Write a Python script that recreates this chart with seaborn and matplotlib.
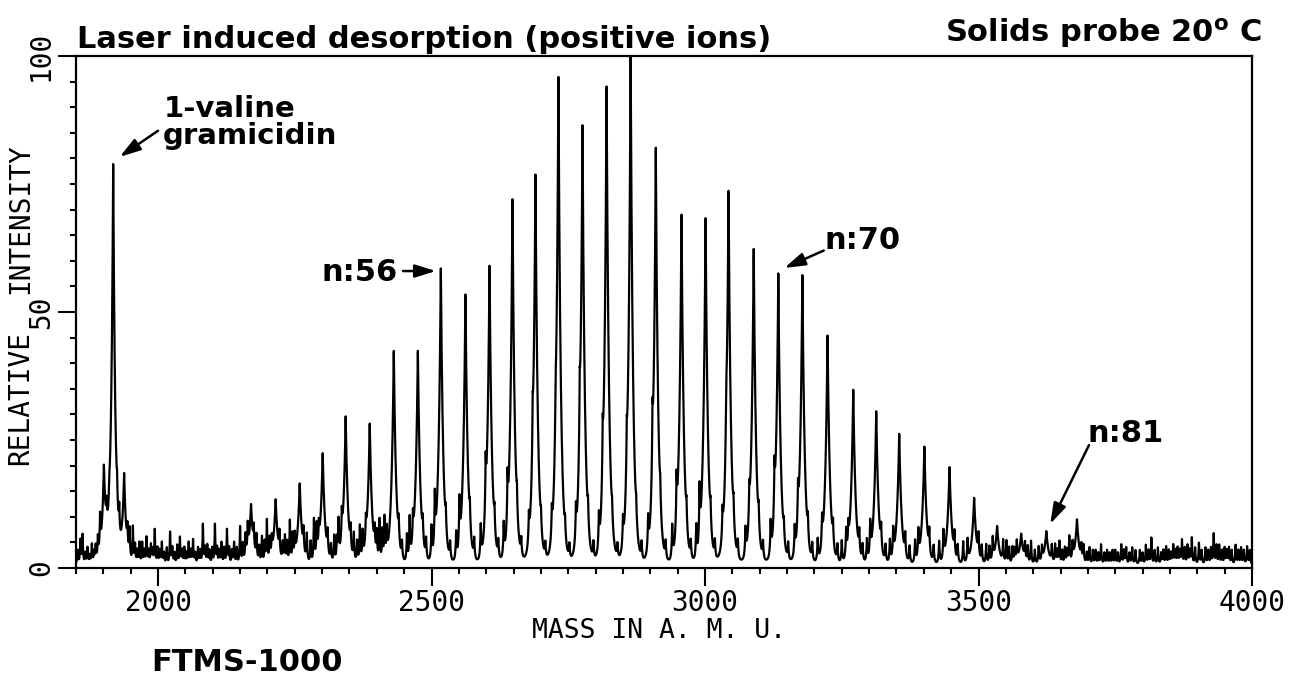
import numpy as np
import pandas as pd
import matplotlib
matplotlib.use("Agg")
import matplotlib.pyplot as plt
import seaborn as sns

# ---------------- data ----------------
# calibrant cluster (1-valine gramicidin)
gram_mass = [1901, 1918, 1938]
gram_height = [19.0, 78.5, 18.0]

# main oligomer series (n:56 at 2517, n:70 at 3134, n:81 at 3624)
series_mass = [2170, 2215, 2259, 2301, 2343, 2387, 2431, 2475, 2517, 2562,
               2606, 2648, 2690, 2732, 2776, 2820, 2864, 2910, 2957, 3001,
               3043, 3089, 3134, 3178, 3224, 3271, 3313, 3355, 3401, 3447,
               3492, 3534, 3578, 3624, 3680]
series_height = [12.4, 13.4, 16.5, 22.4, 29.6, 28.2, 42.4, 42.4, 58.5, 53.4,
                 59.0, 72.0, 76.7, 95.8, 86.3, 94.0, 100.0, 82.0, 69.0, 68.3,
                 73.4, 62.3, 57.5, 57.2, 45.4, 34.8, 30.6, 26.2, 23.7, 19.7,
                 13.7, 8.2, 6.7, 7.2, 9.5]

# small satellite / noise spikes
noise_mass = [1853, 1858, 1862, 1867, 1871, 1875, 1879, 1883, 1886, 1890, 1894,
              1906, 1911, 1925, 1929, 1944, 1948, 1954, 1958, 1962, 1966, 1971,
              1975, 1979, 1983, 1987, 1990, 1994, 1999, 2003, 2007, 2011, 2016,
              2022, 2026, 2030, 2035, 2040, 2044, 2048, 2052, 2056, 2060, 2064,
              2068, 2073, 2077, 2082, 2086, 2090, 2094, 2099, 2104, 2108, 2112,
              2116, 2121, 2126, 2130, 2135, 2139, 2144, 2150, 2155, 2160, 2164,
              2175, 2180, 2185, 2190, 2195, 2199, 2204, 2208, 2222, 2228, 2232,
              2236, 2241, 2246, 2250, 2266, 2272, 2279, 2285, 2290, 2294, 2310,
              2316, 2322, 2327, 2330, 2336, 2352, 2358, 2364, 2369, 2374, 2380,
              2396, 2400, 2405, 2410, 2414, 2418,
              2440, 2446, 2455, 2460, 2466, 2484, 2490, 2500, 2506, 2526, 2534,
              2545, 2551, 2570, 2578, 2590, 2599, 2615, 2622, 2632, 2639, 2656,
              2664, 2678, 2685, 2700, 2708, 2720, 2727, 2744, 2752, 2764, 2771,
              2786, 2796, 2806, 2813, 2830, 2840, 2850, 2857, 2874, 2884, 2896,
              2904, 2918, 2928, 2940, 2948, 2966, 2974, 2984, 2990, 3010, 3018,
              3032, 3039, 3052, 3060, 3074, 3081, 3098, 3106, 3120, 3127, 3144,
              3152, 3164, 3170, 3188, 3196, 3206, 3214, 3234, 3242, 3250, 3258,
              3262, 3282, 3288, 3296, 3302, 3322, 3330, 3338, 3344, 3366, 3374,
              3384, 3390, 3410, 3418, 3428, 3436, 3456, 3462, 3472, 3480, 3500,
              3506, 3514, 3520, 3526, 3545, 3551, 3556, 3562, 3566, 3570, 3585,
              3590, 3596, 3603, 3610, 3616, 3634, 3640, 3644, 3648, 3653, 3658,
              3662, 3666, 3672, 3688, 3692, 3698, 3703, 3709, 3714, 3719, 3724,
              3730, 3735, 3740, 3745, 3750, 3755, 3761, 3766, 3770, 3776, 3781,
              3787, 3795, 3800, 3806, 3811, 3816, 3822, 3828, 3834, 3838, 3843,
              3848, 3852, 3856, 3860, 3864, 3868, 3872, 3877, 3882, 3886, 3890,
              3896, 3903, 3908, 3915, 3920, 3925, 3930, 3935, 3940, 3945, 3950,
              3954, 3958, 3963, 3970, 3975, 3980, 3985, 3991, 3996]
noise_height = [3.5, 5.5, 6.5, 3.0, 4.0, 2.5, 4.6, 3.0, 4.0, 5.0, 7.5,
                5.0, 4.0, 5.0, 6.0, 5.0, 6.5, 7.8, 4.5, 3.5, 5.0, 5.0,
                3.5, 6.0, 3.5, 4.5, 3.5, 7.5, 4.0, 3.5, 5.0, 3.0, 4.0,
                7.0, 4.0, 3.0, 4.5, 6.0, 3.5, 4.0, 3.0, 5.0, 3.5, 5.5,
                3.0, 4.0, 3.5, 8.5, 4.0, 4.5, 3.5, 4.0, 8.5, 4.0, 3.5,
                5.0, 4.0, 7.5, 4.0, 3.5, 5.0, 4.0, 8.0, 4.5, 5.5, 6.0,
                5.0, 5.5, 4.0, 6.0, 5.0, 9.0, 5.0, 4.0, 5.0, 4.5, 6.0,
                5.0, 9.0, 6.0, 5.0, 5.0, 6.0, 5.0, 9.0, 7.0, 5.0, 5.0,
                4.0, 6.0, 5.0, 8.0, 6.0, 5.0, 6.0, 5.0, 7.8, 6.0, 5.0,
                5.0, 6.0, 9.0, 7.0, 9.0, 6.0,
                5.0, 4.0, 6.0, 8.7, 6.0, 5.0, 4.5, 7.0, 10.4, 5.0, 4.0,
                6.0, 9.8, 5.0, 4.5, 7.0, 10.5, 5.0, 4.0, 7.0, 10.0, 5.0,
                4.0, 6.0, 9.5, 4.0, 3.5, 6.0, 7.6, 4.0, 3.5, 7.0, 11.3,
                5.0, 4.0, 7.0, 10.5, 4.0, 3.5, 6.0, 9.0, 4.0, 4.0, 7.0,
                12.0, 5.0, 4.0, 7.0, 10.0, 5.0, 4.0, 7.0, 11.0, 5.0, 4.0,
                6.0, 8.0, 5.0, 4.0, 6.0, 7.0, 5.0, 4.0, 7.0, 10.0, 4.0,
                4.0, 6.0, 8.0, 5.0, 4.0, 5.0, 6.0, 5.0, 4.0, 5.0, 6.0,
                5.0, 5.0, 4.0, 5.0, 7.0, 5.0, 4.0, 5.0, 6.0, 5.0, 4.0,
                5.0, 6.0, 5.0, 4.0, 5.0, 6.0, 5.0, 4.0, 5.0, 5.0, 5.0,
                4.0, 4.5, 4.0, 5.0, 5.0, 5.2, 4.0, 4.0, 3.5, 4.5, 4.0,
                4.0, 5.2, 3.5, 4.0, 3.5, 4.0, 4.5, 3.5, 5.2, 3.5, 4.0,
                3.5, 5.9, 4.0, 3.5, 4.0, 3.0, 4.0, 3.5, 3.5, 3.0, 4.6,
                3.0, 3.5, 3.0, 3.5, 3.5, 3.0, 4.6, 3.5, 4.0, 3.0, 4.0,
                3.5, 3.5, 3.0, 4.5, 3.5, 5.9, 3.5, 4.0, 3.0, 3.5, 4.2,
                3.5, 3.0, 4.5, 3.5, 4.0, 3.5, 5.5, 4.0, 4.5, 3.5, 5.9,
                4.0, 4.9, 3.5, 4.0, 3.5, 4.0, 6.7, 4.5, 4.5, 3.5, 4.0,
                3.5, 4.0, 3.5, 4.5, 3.5, 4.0, 3.5, 4.2, 3.5]

baseline_level = 0.8

x_ticks = [2000, 2500, 3000, 3500, 4000]
y_ticks = [0, 50, 100]
y_tick_labels = ["0", "50", "100"]

# ---------------- build the spectrum trace (cusp-shaped peaks) ----------------
mass = np.arange(1850.0, 4000.25, 0.25)
intensity = np.full_like(mass, baseline_level)


def add_peaks(centres, heights, tau):
    global intensity
    for c, h in zip(centres, heights):
        intensity = intensity + (h - baseline_level) * np.exp(-np.abs(mass - c) / tau)


add_peaks(gram_mass, gram_height, 4.0)
add_peaks(series_mass, series_height, 4.5)
add_peaks(noise_mass, noise_height, 1.2)
intensity = np.minimum(intensity, 100.0)

df = pd.DataFrame({"mass": mass, "intensity": intensity})

# ---------------- figure ----------------
sns.set_theme(style="ticks")
plt.rcParams["font.family"] = ["DejaVu Sans"]
plt.rcParams["mathtext.fontset"] = "dejavusans"

W, H = 1302, 675
fig = plt.figure(figsize=(W / 100, H / 100), dpi=100)
fig.patch.set_facecolor("white")
ax = fig.add_axes([76 / W, 1 - 568 / H, (1252 - 76) / W, (568 - 56) / H])
ax.set_facecolor("white")

sns.lineplot(data=df, x="mass", y="intensity", ax=ax, color="black",
             linewidth=1.6, estimator=None, sort=False)

ax.set_xlim(1850, 4000)
ax.set_ylim(0, 100)
for s in ax.spines.values():
    s.set_visible(True)
    s.set_linewidth(1.6)
    s.set_color("black")

mono = "DejaVu Sans Mono"
ax.set_xticks(x_ticks)
ax.set_xticklabels([str(t) for t in x_ticks], fontfamily=mono, fontsize=20)
ax.set_xticks(np.arange(1850, 4001, 50), minor=True)
ax.set_yticks(y_ticks)
ax.set_yticklabels(y_tick_labels, fontfamily=mono, fontsize=20,
                   rotation=90, va="center")
ax.set_yticks(np.arange(0, 101, 5), minor=True)
ax.tick_params(which="major", direction="out", length=13, width=1.5,
               color="black", labelcolor="black", pad=2)
ax.tick_params(which="minor", direction="out", length=4.5, width=1.5,
               color="black")
ax.tick_params(axis="x", which="both", top=False)
ax.tick_params(axis="y", which="both", right=False)
ax.set_xlabel("")
ax.set_ylabel("")

# y-axis title, split around the "50" tick label as in the original
fig.text(20 / W, 1 - 331 / H, "RELATIVE", rotation=90, fontfamily=mono,
         fontsize=20, ha="center", va="top", color="black")
fig.text(20 / W, 1 - 294 / H, "INTENSITY", rotation=90, fontfamily=mono,
         fontsize=20, ha="center", va="bottom", color="black")
fig.text(659 / W, 1 - 631 / H, "MASS IN A. M. U.", fontfamily=mono,
         fontsize=19, ha="center", va="center", color="black")

bold = dict(fontfamily="DejaVu Sans", fontweight="bold", color="black")
fig.text(77 / W, 1 - 48 / H, "Laser induced desorption (positive ions)",
         fontsize=22, ha="left", va="baseline", **bold)
fig.text(1262 / W, 1 - 42 / H, r"Solids probe 20$^{\mathbf{o}}$ C",
         fontsize=22, ha="right", va="baseline", **bold)
fig.text(151 / W, 1 - 671 / H, "FTMS-1000", fontsize=22, ha="left",
         va="baseline", **bold)

# annotations
ax.text(2011, 88.0, "1-valine", fontsize=21, ha="left", va="baseline", **bold)
ax.text(2008, 82.8, "gramicidin", fontsize=21, ha="left", va="baseline", **bold)
ax.text(2299, 56.0, "n:56", fontsize=22, ha="left", va="baseline", **bold)
ax.text(3218, 62.3, "n:70", fontsize=22, ha="left", va="baseline", **bold)
ax.text(3699, 24.6, "n:81", fontsize=22, ha="left", va="baseline", **bold)

arrow = dict(arrowstyle="-|>,head_length=0.9,head_width=0.28", color="black",
             lw=1.8, mutation_scale=14, shrinkA=0, shrinkB=0)
ax.annotate("", xy=(1930, 80.3), xytext=(2000, 85.4), arrowprops=arrow)
ax.annotate("", xy=(2508, 58.0), xytext=(2448, 58.0), arrowprops=arrow)
ax.annotate("", xy=(3145, 58.6), xytext=(3217, 62.0), arrowprops=arrow)
ax.annotate("", xy=(3631, 8.6), xytext=(3702, 24.0), arrowprops=arrow)

fig.savefig("out.png", dpi=100, facecolor="white")
